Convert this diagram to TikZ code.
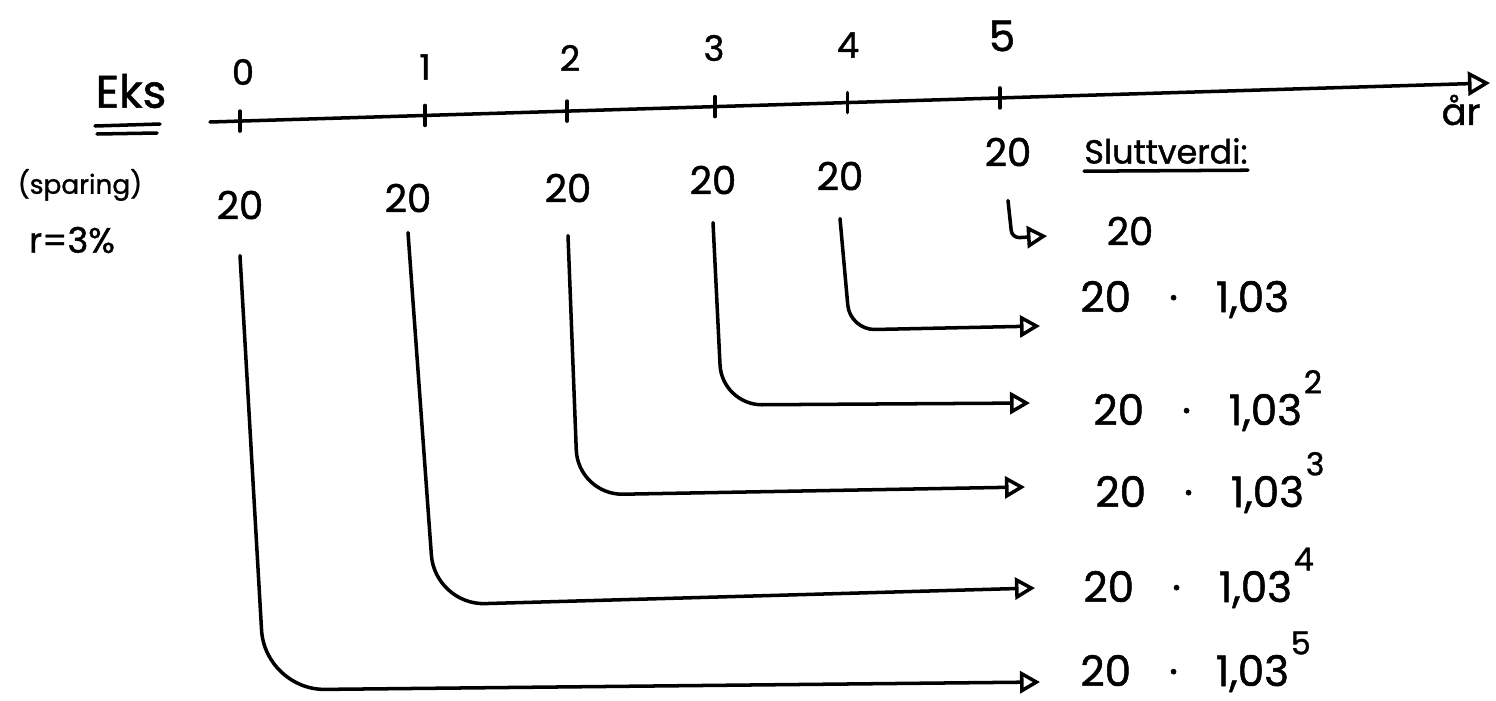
\documentclass[tikz,border=0pt]{standalone}
\usepackage{fontspec}
\setmainfont{Poppins}[FakeBold=1.2]
\usetikzlibrary{arrows.meta,calc}
\begin{document}
\begin{tikzpicture}[x=0.02cm,y=-0.02cm,
  ink/.style={line width=2pt, line cap=round, line join=round},
  flow/.style={ink, -{Triangle[open,length=0.4cm,width=0.44cm]}},
  amount/.style={inner sep=0pt, font=\fontsize{22}{26}\selectfont},
  value/.style={inner sep=0pt, anchor=base west, font=\fontsize{24}{28}\selectfont},
  yearlbl/.style={inner sep=0pt, font=\fontsize{20}{24}\selectfont},
]
\useasboundingbox (0,0) rectangle (1496,700);

% time axis with yearly ticks
\coordinate (ax0) at (210,122);
\coordinate (ax1) at (1490,83);
\draw[ink, -{Triangle[open,length=0.44cm,width=0.48cm]}] (ax0) -- (ax1);
\foreach \i/\f in {0/0.0234,1/0.168,2/0.279,3/0.3945,4/0.498,5/0.617} {
  \coordinate (t\i) at ($(ax0)!\f!(ax1)$);
  \draw[ink] ([yshift=0.2cm]t\i) -- ([yshift=-0.2cm]t\i);
}
\node[yearlbl] (y0) at (243,72) {0};
\node[yearlbl] (y1) at (425,67) {1};
\node[yearlbl] (y2) at (570,58) {2};
\node[yearlbl] (y3) at (714,48) {3};
\node[yearlbl] (y4) at (848,45) {4};
\node[yearlbl, font=\fontsize{24}{28}\selectfont] (y5) at (1002,36) {5};
\node[inner sep=0pt, font=\fontsize{21}{24}\selectfont] (yr) at (1461,110) {år};

% heading and assumptions
\node[inner sep=0pt, font=\fontsize{26}{30}\selectfont] (eks) at (131,91) {Eks};
\draw[ink] (95,126) -- (160,124);
\draw[ink] (97,134) -- (157,133);
\node[inner sep=0pt, font=\fontsize{15}{18}\selectfont] (spar) at (80,185) {(sparing)};
\node[inner sep=0pt, font=\fontsize{20}{24}\selectfont] (rate) at (72,240) {r=3\%};

% deposits
\node[amount] (n0) at (240,205) {20};
\node[amount] (n1) at (408,198) {20};
\node[amount] (n2) at (568,188) {20};
\node[amount] (n3) at (713,180) {20};
\node[amount] (n4) at (840,176) {20};
\node[amount] (n5) at (1008,152) {20};

% final values
\node[inner sep=0pt, font=\fontsize{19}{23}\selectfont] (slutt) at (1166,151) {Sluttverdi:};
\draw[ink] ([yshift=-0.14cm]slutt.south west) -- ([yshift=-0.12cm]slutt.south east);
\node[amount] (v0) at (1130,231) {20};
\newcommand{\fv}[1]{20\hspace{0.9em}·\hspace{0.9em}1,03\hspace{1pt}\raisebox{0.75em}{\fontsize{18}{20}\selectfont #1}}
\node[value] (v1) at (1080,312) {\fv{}};
\node[value] (v2) at (1093,425) {\fv{2}};
\node[value] (v3) at (1095,507) {\fv{3}};
\node[value] (v4) at (1083,602) {\fv{4}};
\node[value] (v5) at (1080,686) {\fv{5}};

% arrow ends in front of the final values
\coordinate (e0) at (1047,236);
\coordinate (e1) at (1040,326);
\coordinate (e2) at (1030,403);
\coordinate (e3) at (1025,487);
\coordinate (e4) at (1035,588);
\coordinate (e5) at (1040,682);

% compounding paths
\draw[flow, rounded corners=0.15cm] ([yshift=-0.68cm]n5.south) -- (1012,238) -- (e0);
\draw[flow, rounded corners=0.5cm] ([yshift=-0.56cm]n4.south) -- (850,330) -- (e1);
\draw[flow, rounded corners=0.8cm] ([yshift=-0.56cm]n3.south) -- (722,405) -- (e2);
\draw[flow, rounded corners=0.9cm] ([yshift=-0.66cm]n2.south) -- (578,495) -- (e3);
\draw[flow, rounded corners=1.0cm] ([yshift=-0.4cm]n1.south) -- (435,605) -- (e4);
\draw[flow, rounded corners=1.2cm] ([yshift=-0.72cm]n0.south) -- (265,690) -- (e5);
\end{tikzpicture}
\end{document}
